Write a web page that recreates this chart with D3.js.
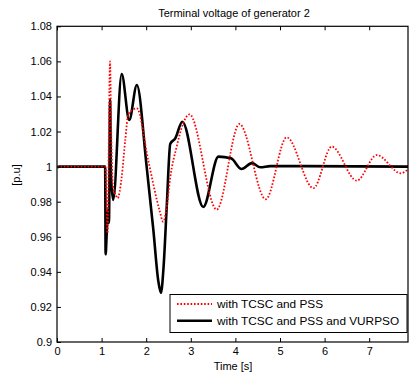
<!DOCTYPE html>
<html>
<head>
<meta charset="utf-8">
<script src="https://cdn.jsdelivr.net/npm/d3@7"></script>
<style>
  body { margin: 0; background: #fff; }
  svg { font-family: 'Liberation Sans', Arial, sans-serif; }
</style>
</head>
<body>
<div id="chart"></div>
<script>
// data
const xTicks = [0, 1, 2, 3, 4, 5, 6, 7]
const yTicks = [0.9, 0.92, 0.94, 0.96, 0.98, 1, 1.02, 1.04, 1.06, 1.08]

const redTime = [0, 1.08, 1.105, 1.13, 1.19, 1.21, 1.25, 1.33, 1.36, 1.45, 1.53, 1.6, 1.79,
  2.05, 2.3, 2.38, 2.46, 2.54, 2.68, 2.83, 2.97, 3.58, 4.09, 4.68, 5.15, 5.75, 6.16, 6.72, 7.17, 7.71, 7.87]
const redValue = [1.0, 1.0, 0.985, 0.962, 1.06, 1.028, 0.99, 0.983, 0.982, 0.994, 1.015, 1.03, 1.0332,
  1.003, 0.975, 0.9686, 0.977, 0.994, 1.011, 1.0247, 1.0298, 0.9755, 1.0243, 0.9814, 1.0167, 0.9877, 1.0114, 0.992, 1.0066, 0.9962, 0.9985]

const blackTime = [0, 0.05, 1.08, 1.09, 1.115, 1.14, 1.165, 1.19, 1.21, 1.26, 1.45, 1.62, 1.79,
  2.01, 2.16, 2.27, 2.33, 2.39, 2.46, 2.54, 2.65, 2.81, 3.28, 3.62, 3.9, 4.14, 4.37, 4.56, 4.78, 7.87]
const blackValue = [0.9995, 1.0, 1.0, 0.95, 0.962, 0.975, 0.968, 1.038, 0.995, 0.981, 1.0528, 1.0266, 1.0465,
  1.0, 0.964, 0.935, 0.928, 0.943, 0.977, 1.013, 1.016, 1.0256, 0.977, 1.0057, 1.0047, 0.9986, 1.002, 0.9996, 1.0003, 1.0]

const seriesNames = ['with TCSC and PSS', 'with TCSC and PSS and VURPSO']

const width = 409
const height = 374
const plot = { left: 57, top: 26.3, right: 408, bottom: 342 }

const svg = d3.select('#chart').append('svg')
  .attr('width', width)
  .attr('height', height)

const x = d3.scaleLinear().domain([0, 7.87]).range([plot.left, plot.right])
const y = d3.scaleLinear().domain([0.9, 1.08]).range([plot.bottom, plot.top])

const line = d3.line()
  .x(d => x(d[0]))
  .y(d => y(d[1]))
  .curve(d3.curveMonotoneX)

const redData = redTime.map((t, i) => [t, redValue[i]])
const blackData = blackTime.map((t, i) => [t, blackValue[i]])

svg.append('defs').append('clipPath').attr('id', 'clip')
  .append('rect')
  .attr('x', plot.left).attr('y', plot.top)
  .attr('width', plot.right - plot.left).attr('height', plot.bottom - plot.top)

const lines = svg.append('g').attr('clip-path', 'url(#clip)')

lines.append('path')
  .datum(blackData)
  .attr('d', line)
  .attr('fill', 'none')
  .attr('stroke', '#000')
  .attr('stroke-width', 2.6)
  .attr('stroke-linejoin', 'round')

lines.append('path')
  .datum(redData)
  .attr('d', line)
  .attr('fill', 'none')
  .attr('stroke', '#ff0000')
  .attr('stroke-width', 1.8)
  .attr('stroke-dasharray', '1.6,1.8')

// axes, ticks pointing inward
const fontSize = 11
svg.append('g')
  .attr('transform', `translate(0,${plot.bottom})`)
  .call(d3.axisBottom(x).tickValues(xTicks).tickSizeInner(-4).tickSizeOuter(0).tickPadding(5))
svg.append('g')
  .attr('transform', `translate(0,${plot.top})`)
  .call(d3.axisTop(x).tickValues(xTicks).tickSizeInner(-4).tickSizeOuter(0).tickFormat(''))
svg.append('g')
  .attr('transform', `translate(${plot.left},0)`)
  .call(d3.axisLeft(y).tickValues(yTicks).tickSizeInner(-4).tickSizeOuter(0).tickPadding(5)
    .tickFormat(d => d3.format('')(+d.toFixed(2))))

svg.selectAll('.domain').remove()
svg.selectAll('.tick line').attr('stroke', '#000')
svg.selectAll('.tick text')
  .attr('font-size', fontSize)
  .attr('font-family', 'Liberation Sans, Arial, sans-serif')
  .attr('fill', '#000')

svg.append('rect')
  .attr('x', plot.left).attr('y', plot.top)
  .attr('width', plot.right - plot.left).attr('height', plot.bottom - plot.top)
  .attr('fill', 'none')
  .attr('stroke', '#000')
  .attr('stroke-width', 1.2)

svg.append('text')
  .attr('x', 234).attr('y', 17)
  .attr('text-anchor', 'middle')
  .attr('font-size', fontSize)
  .text('Terminal voltage of generator 2')

svg.append('text')
  .attr('x', 233).attr('y', 370)
  .attr('text-anchor', 'middle')
  .attr('font-size', fontSize)
  .text('Time [s]')

svg.append('text')
  .attr('transform', 'translate(20,175) rotate(-90)')
  .attr('text-anchor', 'middle')
  .attr('font-size', fontSize)
  .text('[p.u]')

// legend
const legend = svg.append('g')
legend.append('rect')
  .attr('x', 170).attr('y', 294.5)
  .attr('width', 237).attr('height', 38)
  .attr('fill', '#fff')
  .attr('stroke', '#000')
  .attr('stroke-width', 1)

const legendStyles = [
  { color: '#ff0000', width: 1.8, dash: '1.6,1.8' },
  { color: '#000', width: 2.6, dash: null },
]
seriesNames.forEach((name, i) => {
  const ly = 304 + i * 16.7
  legend.append('line')
    .attr('x1', 177).attr('x2', 212)
    .attr('y1', ly).attr('y2', ly)
    .attr('stroke', legendStyles[i].color)
    .attr('stroke-width', legendStyles[i].width)
    .attr('stroke-dasharray', legendStyles[i].dash)
  legend.append('text')
    .attr('x', 217).attr('y', ly + 4)
    .attr('font-size', 11.8)
    .text(name)
})
</script>
</body>
</html>
